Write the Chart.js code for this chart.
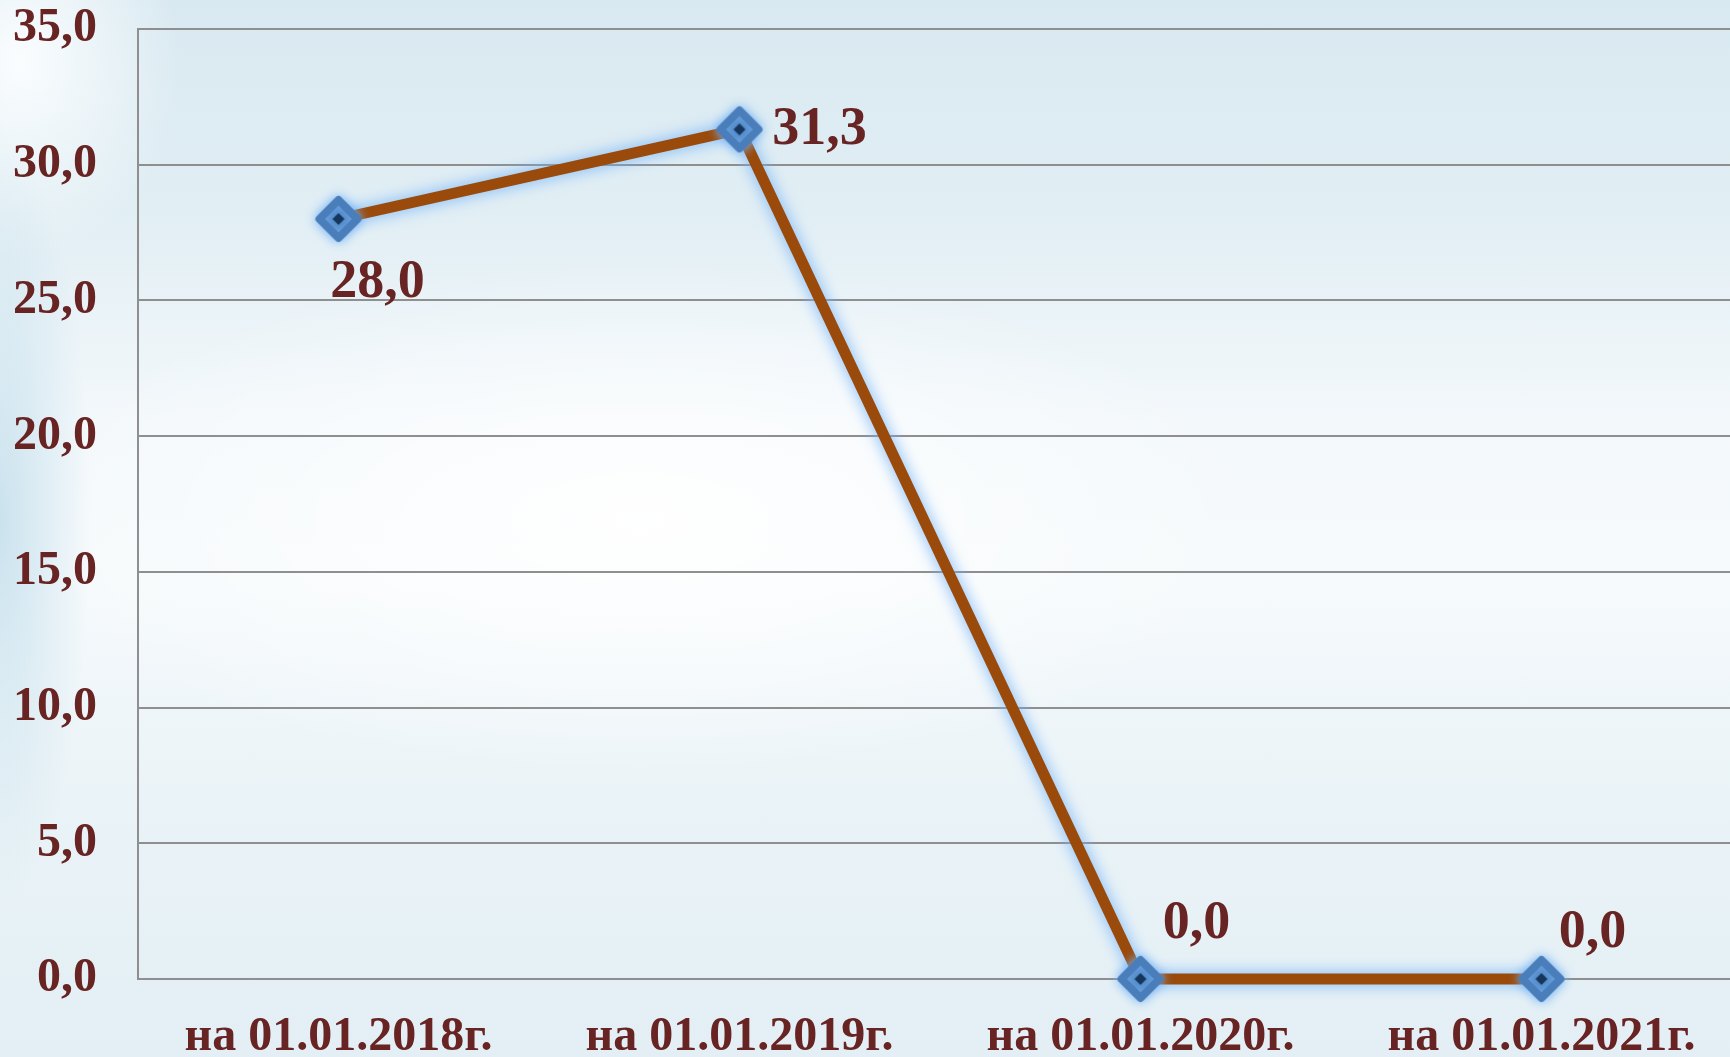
<!DOCTYPE html>
<html lang="ru">
<head>
<meta charset="utf-8">
<title>Показатель на начало года</title>
<script src="https://cdn.jsdelivr.net/npm/chart.js@4.4.1/dist/chart.umd.min.js"></script>
<style>
  html, body {
    margin: 0;
    padding: 0;
    width: 1730px;
    height: 1057px;
    overflow: hidden;
  }
  body {
    background:
      radial-gradient(ellipse 90px 380px at 0px 520px, rgba(200, 225, 237, 0.95), rgba(200, 225, 237, 0)),
      radial-gradient(ellipse 160px 200px at 20px 60px, rgba(252, 254, 255, 0.95), rgba(252, 254, 255, 0)),
      radial-gradient(ellipse 620px 260px at 640px 520px, rgba(255, 255, 255, 0.95), rgba(255, 255, 255, 0)),
      linear-gradient(to bottom, #d9e9f1 0%, #e1eef4 20%, #f3f8fb 40%, #f6fafc 55%, #eaf3f7 75%, #e3eff5 100%);
  }
  #wrap {
    position: relative;
    width: 1742px;
    height: 1057px;
  }
</style>
</head>
<body>
<div id="wrap"><canvas id="value-chart"></canvas></div>
<script>
/*global Chart*/

const dates = ["на 01.01.2018г.", "на 01.01.2019г.", "на 01.01.2020г.", "на 01.01.2021г."];
const values = [28.0, 31.3, 0.0, 0.0];
const yTicks = [0, 5, 10, 15, 20, 25, 30, 35];

const textColor = "#682323";
const fontFamily = "'Liberation Serif', 'Times New Roman', serif";
const tickFont = { family: fontFamily, weight: "bold", size: 48 };
const labelFont = { family: fontFamily, weight: "bold", size: 54 };

function formatNumber(v) {
  return v.toFixed(1).replace(".", ",");
}

// Blue diamond marker with a soft glow and a small dark centre
function makeMarker() {
  const c = document.createElement("canvas");
  c.width = 84;
  c.height = 84;
  const g = c.getContext("2d");
  const cx = 42, cy = 42, r = 23;
  g.shadowColor = "rgba(120, 180, 245, 1)";
  g.shadowBlur = 12;
  g.lineJoin = "round";
  g.lineWidth = 8;
  g.fillStyle = "#4a7ebb";
  g.strokeStyle = "#4a7ebb";
  g.beginPath();
  g.moveTo(cx - r + 4, cy);
  g.lineTo(cx, cy - r + 4);
  g.lineTo(cx + r - 4, cy);
  g.lineTo(cx, cy + r - 4);
  g.closePath();
  g.fill();
  g.stroke();
  g.shadowBlur = 0;
  g.fillStyle = "#17365d";
  g.beginPath();
  g.moveTo(cx - 6, cy);
  g.lineTo(cx, cy - 6);
  g.lineTo(cx + 6, cy);
  g.lineTo(cx, cy + 6);
  g.closePath();
  g.fill();
  return c;
}

// Light blue halo around the brown line
const lineGlow = {
  id: "lineGlow",
  beforeDatasetDraw(chart, args) {
    if (args.index !== 1) return;
    const ctx = chart.ctx;
    ctx.save();
    ctx.shadowColor = "rgba(115, 178, 248, 1)";
    ctx.shadowBlur = 15;
  },
  afterDatasetDraw(chart, args) {
    if (args.index !== 1) return;
    chart.ctx.restore();
  },
};

// Value labels next to the markers
const valueLabels = {
  id: "valueLabels",
  afterDatasetsDraw(chart, args, opts) {
    const ctx = chart.ctx;
    const meta = chart.getDatasetMeta(0);
    ctx.save();
    ctx.font = `${labelFont.weight} ${labelFont.size}px ${labelFont.family}`;
    ctx.fillStyle = textColor;
    ctx.textBaseline = "middle";
    ctx.textAlign = "center";
    meta.data.forEach((pt, i) => {
      const [dx, dy] = opts.offsets[i];
      ctx.fillText(formatNumber(values[i]), pt.x + dx, pt.y + dy);
    });
    ctx.restore();
  },
};

const marker = makeMarker();

new Chart(document.getElementById("value-chart"), {
  type: "line",
  plugins: [lineGlow, valueLabels],
  data: {
    labels: dates,
    datasets: [
      {
        data: values,
        showLine: false,
        pointStyle: marker,
        pointRadius: 23,
        pointHoverRadius: 23,
        clip: false,
      },
      {
        data: values,
        borderColor: "#9a4a0a",
        borderWidth: 11,
        pointRadius: 0,
        pointHoverRadius: 0,
        tension: 0,
        fill: false,
        clip: false,
      },
    ],
  },
  options: {
    responsive: true,
    maintainAspectRatio: false,
    animation: false,
    events: [],
    layout: {
      autoPadding: false,
      padding: { top: 29, left: 0, right: 0, bottom: 0 },
    },
    scales: {
      x: {
        offset: true,
        afterFit: (scale) => { scale.height = 78; },
        grid: { display: false, drawTicks: false },
        border: { display: false },
        ticks: {
          color: textColor,
          font: tickFont,
          padding: 30,
          autoSkip: false,
          maxRotation: 0,
        },
      },
      y: {
        min: 0,
        max: 35,
        afterFit: (scale) => {
          scale.width = 138;
          scale.paddingTop = 0;
          scale.paddingBottom = 0;
        },
        afterBuildTicks: (scale) => {
          scale.ticks = yTicks.map((v) => ({ value: v }));
        },
        grid: { color: "#8f8f8f", lineWidth: 2, drawTicks: false },
        border: { display: true, color: "#8f8f8f", width: 2 },
        ticks: {
          color: textColor,
          font: tickFont,
          padding: 41,
          callback: (v) => formatNumber(v),
        },
      },
    },
    plugins: {
      legend: { display: false },
      tooltip: { enabled: false },
      valueLabels: {
        offsets: [[39, 64], [80, 1], [56, -55], [51, -46]],
      },
    },
  },
});
</script>
</body>
</html>
